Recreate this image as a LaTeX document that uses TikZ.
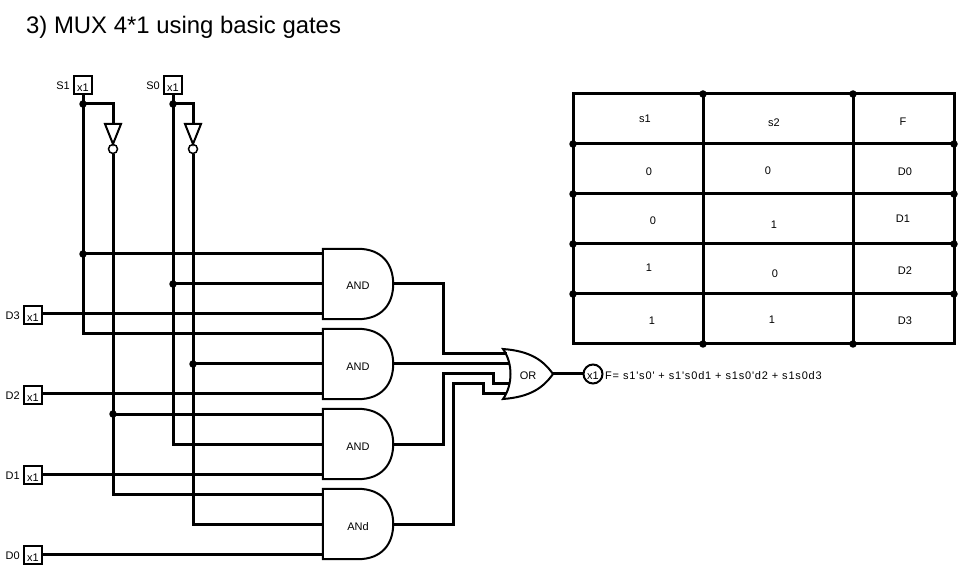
\documentclass[tikz,border=0pt]{standalone}
\usepackage{fontspec}
\usetikzlibrary{positioning}
\setmainfont{Liberation Sans}
\newfontfamily\spacedfont[LetterSpace=7.5]{Liberation Sans}
\newcommand{\lowtext}[2]{\raisebox{#1}[0pt][0pt]{#2}}
\begin{document}
\begin{tikzpicture}[x=1pt,y=-1pt,
            wire/.style={line width=3pt},
            dot/.style={circle,fill=black,inner sep=0pt,minimum size=7.5pt},
            main text/.style={font=\fontsize{11}{13}\selectfont,inner sep=0pt,yshift=-1pt},
            in box/.style={rectangle,draw,line width=2pt,minimum size=18pt,inner sep=0pt,font=\fontsize{11}{13}\selectfont},
            gate body/.style={rectangle,minimum width=70pt,minimum height=70pt,inner sep=0pt,font=\fontsize{11}{13}\selectfont},
            bubble/.style={circle,draw,line width=1.5pt,minimum size=9pt,inner sep=0pt}]

        \useasboundingbox (0,0) rectangle (959,569);

        % Title
        \node[anchor=west,inner sep=0pt,font=\fontsize{23.9}{27}\selectfont] (title) at (26,27) {3) MUX 4*1 using basic gates};

        % Define inputs
        \node[in box] (S1) at (83,85) {\lowtext{-6.5pt}{x1}};
        \node[in box] (S0) at (173,85) {\lowtext{-6.5pt}{x1}};
        \node[in box] (D3) at (33,315) {\lowtext{-6.5pt}{x1}};
        \node[in box] (D2) at (33,395) {\lowtext{-6.5pt}{x1}};
        \node[in box] (D1) at (33,475) {\lowtext{-6.5pt}{x1}};
        \node[in box] (D0) at (33,555) {\lowtext{-6.5pt}{x1}};
        \node[main text,left=3pt of S1] (S1name) {S1};
        \node[main text,left=3pt of S0] (S0name) {S0};
        \node[main text,left=3pt of D3] (D3name) {D3};
        \node[main text,left=3pt of D2] (D2name) {D2};
        \node[main text,left=3pt of D1] (D1name) {D1};
        \node[main text,left=3pt of D0] (D0name) {D0};

        % Define AND gates
        \foreach \gname/\gy/\gtext in {A1/284/AND,A2/364/AND,A3/444/AND,A4/524/ANd} {
            \node[gate body] (\gname) at (358,\gy) {\lowtext{-6pt}{\gtext}};
            \draw[line width=2pt] (\gname.north west) -- ++(35,0)
                .. controls +(24,0) and +(0,-20) .. (\gname.east)
                .. controls +(0,20) and +(24,0) .. ([xshift=35pt]\gname.south west)
                -- (\gname.south west) -- cycle;
            \coordinate (\gname a) at ([yshift=30pt]\gname.west);
            \coordinate (\gname b) at (\gname.west);
            \coordinate (\gname c) at ([yshift=-30pt]\gname.west);
        }

        % Define inverters
        \foreach \iname/\ix in {N1/113,N0/193} {
            \coordinate (\iname top) at (\ix,124);
            \draw[line width=2pt] (\ix-8,124) -- (\ix+8,124) -- (\ix,144) -- cycle;
            \node[bubble] (\iname) at (\ix,149) {};
        }

        % Define OR gate
        \coordinate (ortop) at (503,349);
        \coordinate (orbot) at (503,399);
        \node[main text] (ortext) at (528,375) {OR};
        \node[inner sep=0pt] (orout) at (553,374) {};
        \draw[line width=2pt] (ortop) .. controls (530,351) and (543,360) .. (orout.center)
            .. controls (543,388) and (530,397) .. (orbot)
            .. controls (513,385) and (513,363) .. (ortop) -- cycle;
        \coordinate (or1) at (507,354);
        \coordinate (or2) at (509,364);
        \coordinate (or3) at (510,384);
        \coordinate (or4) at (506,394);
        \node[circle,draw,line width=2pt,minimum size=19pt,inner sep=0pt,font=\fontsize{11}{13}\selectfont] (F) at (593,374) {\lowtext{-5.5pt}{x1}};
        \node[main text,anchor=west,font=\spacedfont\fontsize{11}{13}\selectfont] (Ftext) at (605,375) {F= s1's0' + s1's0d1 + s1s0'd2 + s1s0d3};

        % Draw select lines
        \node[dot] (s1dot) at (83,104) {};
        \node[dot] (s0dot) at (173,104) {};
        \node[dot] (j1) at (83,254) {};
        \node[dot] (j2) at (173,284) {};
        \node[dot] (j3) at (193,364) {};
        \node[dot] (j4) at (113,414) {};
        \draw[wire] (S1.south) -- (j1.center) |- (A2a);
        \draw[wire] (S0.south) -- (j2.center) |- (A3b);
        \draw[wire] (s1dot.center) -| (N1top);
        \draw[wire] (s0dot.center) -| (N0top);
        \draw[wire] (N1.south) -- (j4.center) |- (A4a);
        \draw[wire] (N0.south) -- (j3.center) |- (A4b);
        \draw[wire] (j1.center) -- (A1a);
        \draw[wire] (j2.center) -- (A1b);
        \draw[wire] (j3.center) -- (A2b);
        \draw[wire] (j4.center) -- (A3a);

        % Draw data lines
        \draw[wire] (D3.east) ++(0,-1) -- (A1c);
        \draw[wire] (D2.east) ++(0,-1) -- (A2c);
        \draw[wire] (D1.east) ++(0,-1) -- (A3c);
        \draw[wire] (D0.east) ++(0,-1) -- (A4c);
        \draw[wire] (A1.east) -- (443,284) |- (or1);
        \draw[wire] (A2.east) -- (or2);
        \draw[wire] (A3.east) -- (443,444) |- (493,374) |- (or3);
        \draw[wire] (A4.east) -- (453,524) |- (483,384) |- (or4);
        \draw[wire] (orout.center) -- (F.west);

        % Draw table
        \node[inner sep=0pt] (tl) at (573,94) {};
        \node[inner sep=0pt] (br) at (954,344) {};
        \draw[wire] (tl.center) rectangle (br.center);
        \foreach \ty in {144,194,244,294} {
            \node[dot] (l\ty) at (573,\ty) {};
            \node[dot] (r\ty) at (954,\ty) {};
            \draw[wire] (l\ty.center) -- (r\ty.center);
        }
        \foreach \tx in {703,853} {
            \node[dot] (t\tx) at (\tx,94) {};
            \node[dot] (b\tx) at (\tx,344) {};
            \draw[wire] (t\tx.center) -- (b\tx.center);
        }

        % Table texts
        \foreach \tname/\tx/\ty/\ttext in {c1/645/118/s1,c2/774/122/s2,c3/903/121/F,
                c4/649/171/0,c5/768/170/0,c6/905/171/D0,
                c7/653/220/0,c8/774/224/1,c9/903/218/D1,
                c10/649/267/1,c11/775/273/0,c12/905/270/D2,
                c13/652/320/1,c14/772/319/1,c15/905/320/D3} {
            \node[main text] (\tname) at (\tx,\ty) {\ttext};
        }

\end{tikzpicture}
\end{document}
